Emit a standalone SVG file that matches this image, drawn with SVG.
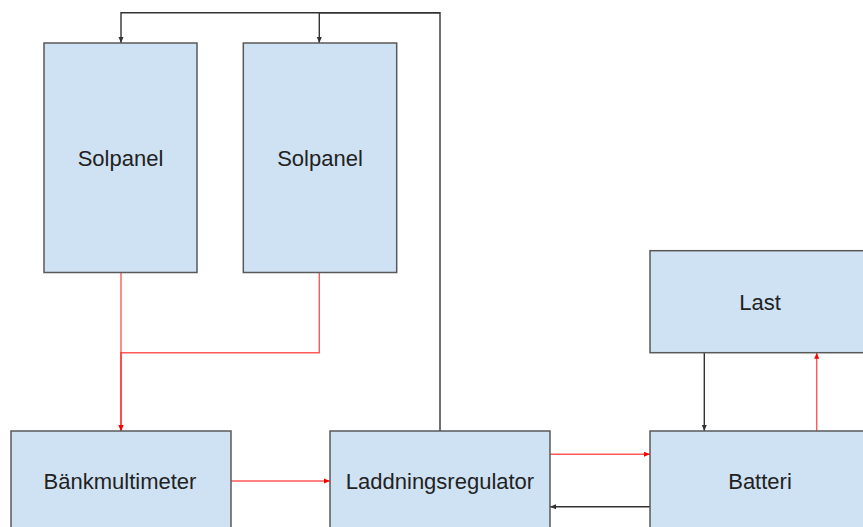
<svg xmlns="http://www.w3.org/2000/svg" width="863" height="527" viewBox="0 0 863 527">
<style>
.box{fill:#cfe2f3;stroke:#595959;stroke-width:1.5}
.lbl{font-family:"Liberation Sans",Arial,sans-serif;font-size:22px;fill:#222;text-anchor:middle;dominant-baseline:central}
.blk{fill:none;stroke:#333;stroke-width:1.4}
.red{fill:none;stroke:#ff0000;stroke-width:1.4;stroke-opacity:0.65}
</style>
<defs>
<marker id="ab" markerUnits="userSpaceOnUse" markerWidth="8" markerHeight="8" viewBox="0 0 8 8" refX="7" refY="4" orient="auto">
<path d="M1,1.5 L7,4 L1,6.5 Z" fill="#333"/>
</marker>
<marker id="ar" markerUnits="userSpaceOnUse" markerWidth="8" markerHeight="8" viewBox="0 0 8 8" refX="7" refY="4" orient="auto">
<path d="M1,1.5 L7,4 L1,6.5 Z" fill="#ff0000"/>
</marker>
</defs>
<rect width="863" height="527" fill="#ffffff"/>
<g id="connectors">
<path class="blk" d="M440,431 V12.7 H121 V43" marker-end="url(#ab)"/>
<path class="blk" d="M440,12.7 H319.3 V43" marker-end="url(#ab)"/>
<path class="red" d="M121,272.5 V431" marker-end="url(#ar)"/>
<path class="red" d="M319.3,272.5 V352.7 H121 V431" marker-end="url(#ar)"/>
<path class="red" d="M231,481 H330" marker-end="url(#ar)"/>
<path class="red" d="M550,454.3 H650" marker-end="url(#ar)"/>
<path class="blk" d="M650,506.7 H550" marker-end="url(#ab)"/>
<path class="blk" d="M704.3,352.7 V431" marker-end="url(#ab)"/>
<path class="red" d="M816.7,431 V352.7" marker-end="url(#ar)"/>
</g>
<g id="solpanel1">
<rect class="box" x="44" y="43" width="153" height="229.5"/>
<text class="lbl" x="120.5" y="158">Solpanel</text>
</g>
<g id="solpanel2">
<rect class="box" x="243.3" y="43" width="153.4" height="229.5"/>
<text class="lbl" x="320" y="158">Solpanel</text>
</g>
<g id="last">
<rect class="box" x="650" y="250.7" width="220" height="102"/>
<text class="lbl" x="760" y="302">Last</text>
</g>
<g id="bankmultimeter">
<rect class="box" x="11" y="431" width="220" height="100"/>
<text class="lbl" x="120" y="481">Bänkmultimeter</text>
</g>
<g id="laddningsregulator">
<rect class="box" x="330" y="431" width="220" height="100"/>
<text class="lbl" x="440" y="481">Laddningsregulator</text>
</g>
<g id="batteri">
<rect class="box" x="650" y="431" width="220" height="100"/>
<text class="lbl" x="760" y="481">Batteri</text>
</g>
</svg>
